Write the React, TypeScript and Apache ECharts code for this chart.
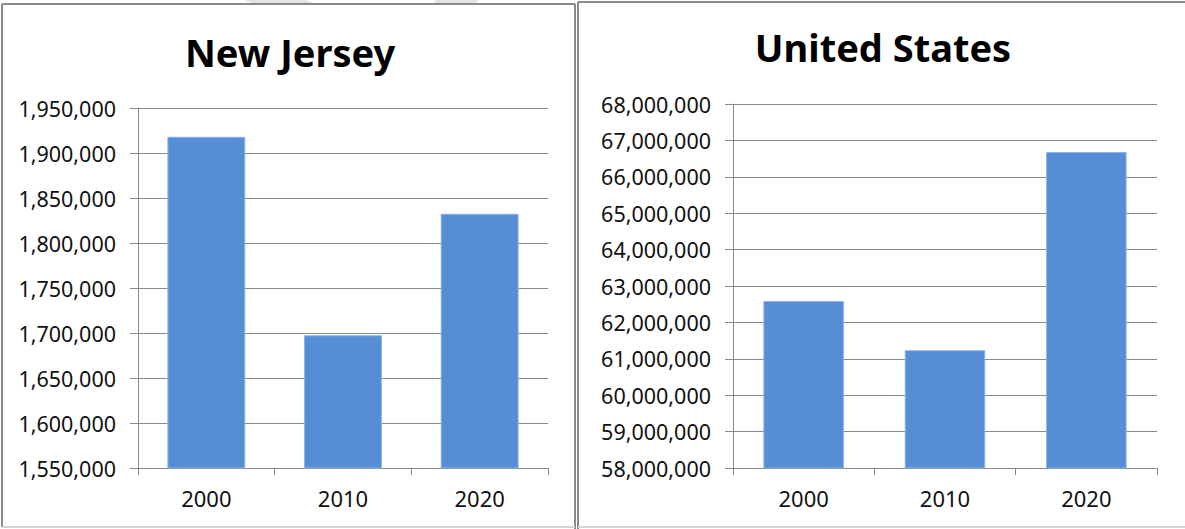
import React, { useEffect, useRef } from "react";
import * as echarts from "echarts";

const categories = ["2000", "2010", "2020"];
const njValues = [1918000, 1697500, 1832500];
const usValues = [62590000, 61235000, 66680000];
const njTitle = "New Jersey";
const usTitle = "United States";
const njAxis = { min: 1550000, max: 1950000, interval: 50000 };
const usAxis = { min: 58000000, max: 68000000, interval: 1000000 };

const FONT = "Noto Sans";
const BAR = "#558ED5";
const GRID = "#8a8a8a";

const fmt = (v: number) => v.toLocaleString("en-US");

export default function App() {
  const ref = useRef<HTMLDivElement>(null);
  useEffect(() => {
    document.body.style.margin = "0";
    const chart = echarts.init(ref.current!, null, { renderer: "svg" });
    const yAxis = (ax: any, gi: number) => ({
      type: "value",
      gridIndex: gi,
      min: ax.min,
      max: ax.max,
      interval: ax.interval,
      axisLine: { show: true, lineStyle: { color: GRID, width: 1 } },
      axisTick: { show: true, length: 8, lineStyle: { color: GRID } },
      splitLine: { show: true, lineStyle: { color: GRID, width: 1 } },
      axisLabel: {
        formatter: fmt,
        margin: 22,
        color: "#111",
        fontFamily: FONT,
        fontSize: 21.5,
      },
    });
    const xAxis = (gi: number) => ({
      type: "category",
      gridIndex: gi,
      data: categories,
      axisLine: { show: true, lineStyle: { color: GRID, width: 1 } },
      axisTick: { show: true, length: 7, alignWithLabel: false, lineStyle: { color: GRID } },
      axisLabel: { margin: 19, color: "#111", fontFamily: FONT, fontSize: 22 },
    });
    chart.setOption({
      animation: false,
      backgroundColor: "#ffffff",
      title: [
        {
          text: njTitle,
          left: 285,
          top: 28,
          textAlign: "center",
          textStyle: { fontFamily: FONT, fontWeight: "bold", fontSize: 38, color: "#000" },
        },
        {
          text: usTitle,
          left: 878,
          top: 23,
          textAlign: "center",
          textStyle: { fontFamily: FONT, fontWeight: "bold", fontSize: 38, color: "#000" },
        },
      ],
      grid: [
        { left: 138, top: 108, width: 410, height: 360 },
        { left: 733, top: 104, width: 424, height: 364 },
      ],
      xAxis: [xAxis(0), xAxis(1)],
      yAxis: [yAxis(njAxis, 0), yAxis(usAxis, 1)],
      series: [
        {
          type: "bar",
          xAxisIndex: 0,
          yAxisIndex: 0,
          data: njValues,
          barCategoryGap: "43%",
          itemStyle: { color: BAR, borderColor: "#8db2e4", borderWidth: 1 },
        },
        {
          type: "bar",
          xAxisIndex: 1,
          yAxisIndex: 1,
          data: usValues,
          barCategoryGap: "43%",
          itemStyle: { color: BAR, borderColor: "#8db2e4", borderWidth: 1 },
        },
      ],
      graphic: [
        { type: "polygon", shape: { points: [[245, 0], [305, 0], [317, 4], [253, 4]] }, style: { fill: "#e3e3e3" }, silent: true },
        { type: "polygon", shape: { points: [[436, 0], [478, 0], [475, 4], [433, 4]] }, style: { fill: "#e3e3e3" }, silent: true },
        { type: "line", shape: { x1: 2, y1: 4, x2: 575, y2: 4 }, style: { stroke: "#8a8a8a", lineWidth: 2 }, silent: true },
        { type: "line", shape: { x1: 2, y1: 4, x2: 2, y2: 527 }, style: { stroke: "#8a8a8a", lineWidth: 2 }, silent: true },
        { type: "line", shape: { x1: 575, y1: 4, x2: 575, y2: 529 }, style: { stroke: "#8a8a8a", lineWidth: 2 }, silent: true },
        { type: "line", shape: { x1: 2, y1: 527, x2: 575, y2: 527 }, style: { stroke: "#d4d4d4", lineWidth: 2 }, silent: true },
        { type: "line", shape: { x1: 578, y1: 2, x2: 1185, y2: 2 }, style: { stroke: "#8a8a8a", lineWidth: 2 }, silent: true },
        { type: "line", shape: { x1: 578, y1: 2, x2: 578, y2: 529 }, style: { stroke: "#8a8a8a", lineWidth: 2 }, silent: true },
        { type: "line", shape: { x1: 578, y1: 527, x2: 1185, y2: 527 }, style: { stroke: "#d4d4d4", lineWidth: 2 }, silent: true },
      ],
    });
    return () => chart.dispose();
  }, []);
  return <div ref={ref} style={{ width: 1185, height: 529 }} />;
}
